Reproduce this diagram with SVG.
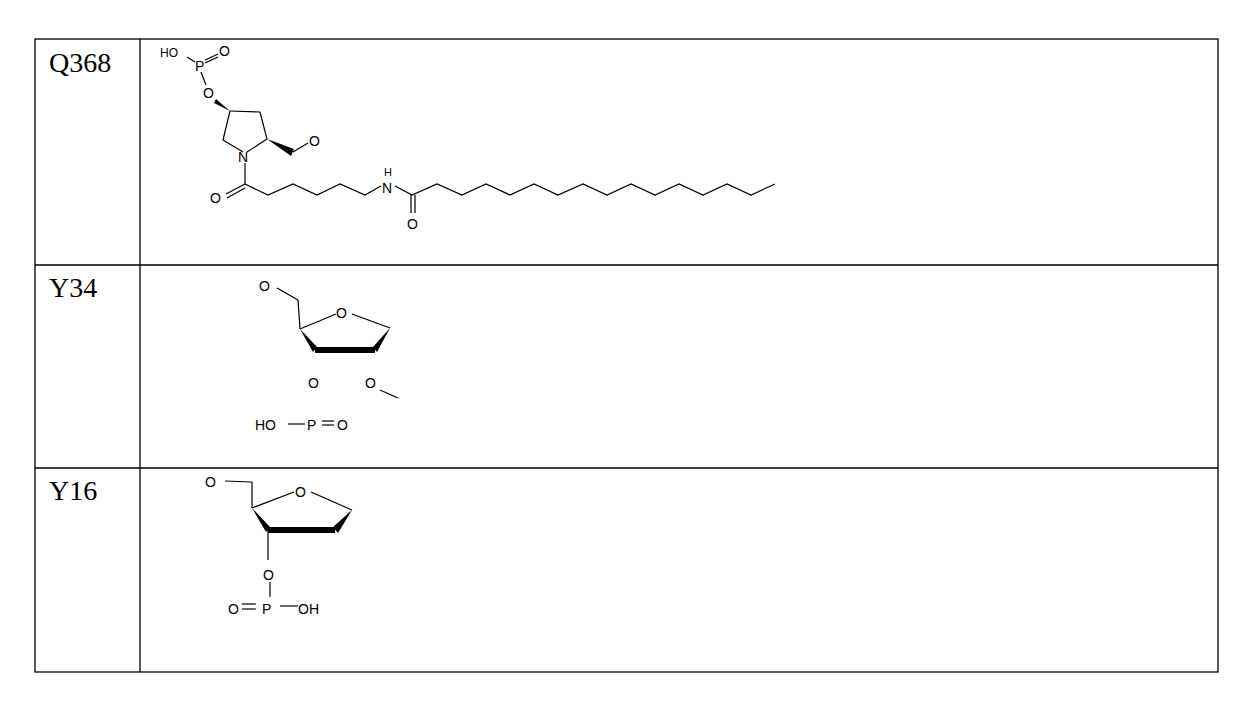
<svg xmlns="http://www.w3.org/2000/svg" width="1256" height="707" viewBox="0 0 1256 707">
<style>
.b{fill:none;stroke:#000;stroke-width:1.3}
.l{font-family:"Liberation Serif",serif;font-size:28px}
.a{font-family:"Liberation Sans",sans-serif;font-size:14px}
.g{stroke:#000;stroke-width:1.2;fill:none}
</style>
<rect width="1256" height="707" fill="#fff"/>
<g id="table" class="b">
<rect x="35" y="39" width="1183" height="633"/>
<line x1="140" y1="39" x2="140" y2="672"/>
<line x1="35" y1="265" x2="1218" y2="265"/>
<line x1="35" y1="468" x2="1218" y2="468"/>
</g>
<g id="labels" class="l">
<text x="49" y="72">Q368</text>
<text x="49" y="297">Y34</text>
<text x="49" y="500">Y16</text>
</g>
<g id="q368">
<g class="g">
<line x1="187" y1="57" x2="195" y2="62"/>
<line x1="205" y1="60" x2="218" y2="54"/>
<line x1="205" y1="63" x2="218" y2="57"/>
<line x1="201" y1="72" x2="206" y2="85"/>
<polyline points="230,111 260,112 267,139 247,152"/>
<polyline points="243,152 223,140 230,111"/>
<line x1="245" y1="163" x2="245" y2="184"/>
<line x1="245" y1="184" x2="226" y2="194"/>
<line x1="245" y1="188" x2="227" y2="198"/>
<polyline points="245,184 268,195 293,184 317,195 340,184 365,195 381,186"/>
<polyline points="395,186 412,195 437,184 462,195 486,184 510,195 534,184 558,195 583,184 607,195 631,184 655,195 679,184 703,195 727,184 751,195 775,184"/>
<line x1="411" y1="195" x2="411" y2="213"/>
<line x1="415" y1="195" x2="415" y2="213"/>
<line x1="293" y1="152" x2="308" y2="143"/>
</g>
<polygon points="267,139 291,156 294,149" fill="#000"/>
<polygon points="230,111 216,99 214,103" fill="#000"/>
<g class="a">
<text x="160" y="57" font-size="12">HO</text>
<text x="195" y="71">P</text>
<text x="219" y="56">O</text>
<text x="203" y="98">O</text>
<text x="238" y="162">N</text>
<text x="309" y="146">O</text>
<text x="210" y="203">O</text>
<text x="384" y="176" font-size="11">H</text>
<text x="382" y="193">N</text>
<text x="407" y="229">O</text>
</g>
</g>
<g id="y34">
<g class="g">
<line x1="277" y1="288" x2="298" y2="300"/>
<line x1="298" y1="300" x2="300" y2="329"/>
<line x1="300" y1="329" x2="336" y2="314"/>
<line x1="352" y1="314" x2="390" y2="328"/>
<line x1="380" y1="390" x2="398" y2="398"/>
<line x1="288" y1="424" x2="305" y2="424"/>
<line x1="322" y1="421" x2="334" y2="421"/>
<line x1="322" y1="425" x2="334" y2="425"/>
</g>
<polygon points="300,329 317,347 313,352" fill="#000"/>
<polygon points="315,347 375,347 375,353 315,353"/>
<polygon points="390,328 377,352 373,347" fill="#000"/>
<g class="a" font-size="16">
<text x="259" y="291">O</text>
<text x="336" y="318">O</text>
<text x="308" y="388">O</text>
<text x="365" y="388">O</text>
<text x="255" y="430">HO</text>
<text x="307" y="430">P</text>
<text x="337" y="430">O</text>
</g>
</g>
<g id="y16">
<g class="g">
<line x1="225" y1="481" x2="252" y2="482"/>
<line x1="252" y1="482" x2="252" y2="508"/>
<line x1="252" y1="508" x2="294" y2="492"/>
<line x1="311" y1="492" x2="352" y2="510"/>
<line x1="268" y1="530" x2="268" y2="560"/>
<line x1="270" y1="582" x2="270" y2="597"/>
<line x1="242" y1="604" x2="256" y2="604"/>
<line x1="242" y1="609" x2="256" y2="609"/>
<line x1="280" y1="606" x2="298" y2="606"/>
</g>
<polygon points="252,508 270,527 266,532" fill="#000"/>
<polygon points="268,527 335,527 335,533 268,533"/>
<polygon points="352,510 338,533 333,527" fill="#000"/>
<g class="a" font-size="16">
<text x="205" y="487">O</text>
<text x="295" y="497">O</text>
<text x="263" y="580">O</text>
<text x="228" y="614">O</text>
<text x="262" y="614">P</text>
<text x="298" y="614">OH</text>
</g>
</g>
</svg>
